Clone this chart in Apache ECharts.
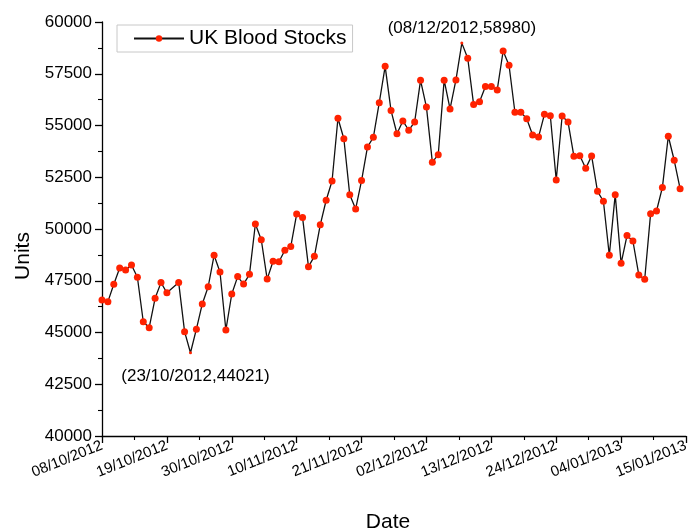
<!DOCTYPE html>
<html><head><meta charset="utf-8">
<script src="https://cdn.jsdelivr.net/npm/echarts@6/dist/echarts.min.js"></script>
<style>html,body{margin:0;padding:0;background:#fff}#c{width:690px;height:532px}</style>
</head><body><div id="c"></div>
<script>
const dates = [
 '08/10/2012','09/10/2012','10/10/2012','11/10/2012','12/10/2012','13/10/2012','14/10/2012','15/10/2012','16/10/2012','17/10/2012','18/10/2012','19/10/2012',
 '21/10/2012','22/10/2012','23/10/2012','24/10/2012','25/10/2012','26/10/2012','27/10/2012','28/10/2012','29/10/2012','30/10/2012','31/10/2012',
 '01/11/2012','02/11/2012','03/11/2012','04/11/2012','05/11/2012','06/11/2012','07/11/2012','08/11/2012','09/11/2012','10/11/2012',
 '11/11/2012','12/11/2012','13/11/2012','14/11/2012','15/11/2012','16/11/2012','17/11/2012','18/11/2012','19/11/2012','20/11/2012',
 '21/11/2012','22/11/2012','23/11/2012','24/11/2012','25/11/2012','26/11/2012','27/11/2012','28/11/2012','29/11/2012','30/11/2012',
 '01/12/2012','02/12/2012','03/12/2012','04/12/2012','05/12/2012','06/12/2012','07/12/2012','08/12/2012','09/12/2012','10/12/2012',
 '11/12/2012','12/12/2012','13/12/2012','14/12/2012','15/12/2012','16/12/2012','17/12/2012','18/12/2012','19/12/2012','20/12/2012',
 '21/12/2012','22/12/2012','23/12/2012','24/12/2012','25/12/2012','26/12/2012','27/12/2012','28/12/2012','29/12/2012','30/12/2012','31/12/2012',
 '01/01/2013','02/01/2013','03/01/2013','04/01/2013','05/01/2013','06/01/2013','07/01/2013','08/01/2013','09/01/2013','10/01/2013',
 '11/01/2013','12/01/2013','13/01/2013','14/01/2013'
];
const units = [
 46570,46490,47330,48120,48020,48260,47670,45520,45230,46650,47410,46920,
 47410,45040,44021,45160,46380,47210,48730,47920,45120,46860,47700,
 47340,47810,50240,49480,47580,48440,48420,48970,49150,50720,
 50550,48180,48680,50200,51390,52320,55350,54360,51650,50970,
 52340,53960,54430,56100,57860,55720,54600,55220,54770,55170,
 57180,55890,53230,53590,57190,55800,57200,58980,58250,56010,
 56150,56880,56880,56720,58600,57910,55640,55640,55330,54540,
 54440,55540,55470,52370,55460,55170,53510,53540,52930,53530,51820,
 51340,48730,51660,48340,49680,49420,47780,47570,50740,50870,
 52010,54480,53320,51950
];
const seriesName = 'UK Blood Stocks';
const axisStartDate = '08/10/2012';
const axisEndDate = '15/01/2013';
const xTickDays = 11;
const yMin = 40000, yMax = 60000, yStep = 2500;

function toUTC(s){const p=s.split('/');return Date.UTC(+p[2],+p[1]-1,+p[0]);}
const DAY = 86400000;
const t0 = toUTC(axisStartDate);
const dayOf = s => Math.round((toUTC(s)-t0)/DAY);
function fmt(day){
  const d = new Date(t0 + day*DAY);
  const dd = String(d.getUTCDate()).padStart(2,'0');
  const mm = String(d.getUTCMonth()+1).padStart(2,'0');
  return dd+'/'+mm+'/'+d.getUTCFullYear();
}
let iMax = 0, iMin = 0;
units.forEach((v,i)=>{ if(v>units[iMax]) iMax=i; if(v<units[iMin]) iMin=i; });
const FONT = '"Liberation Sans", Arial, sans-serif';
const RED = '#ff2200';
const data = dates.map((d,i)=>{
  const item = {value:[dayOf(d), units[i]]};
  if(i===iMax || i===iMin){
    item.symbolSize = 3;
    item.label = {
      show:true,
      position: i===iMax ? 'top' : 'bottom',
      distance: i===iMax ? 5 : 14,
      offset: i===iMax ? [0,0] : [5,0],
      formatter: '(' + d + ',' + units[i] + ')',
      fontSize: 17, fontFamily: FONT, color:'#000'
    };
  }
  return item;
});

const chart = echarts.init(document.getElementById('c'), null, {renderer:'canvas'});
chart.setOption({
  animation:false,
  backgroundColor:'#fff',
  textStyle:{fontFamily:FONT},
  grid:{left:102,right:4,top:22,bottom:96,containLabel:false,outerBoundsMode:'none'},
  legend:{
    show:true, left:117, top:25, orient:'horizontal',
    padding:[3,6,3,16], itemWidth:50, itemHeight:8, itemGap:5,
    borderColor:'#c8c8c8', borderWidth:1, backgroundColor:'#fff',
    textStyle:{fontSize:21, fontFamily:FONT, color:'#000'},
    data:[seriesName]
  },
  xAxis:{
    type:'value', min:0, max:dayOf(axisEndDate), interval:xTickDays,
    name:'Date', nameLocation:'middle', nameGap:76,
    nameTextStyle:{fontSize:21, fontFamily:FONT, color:'#000', padding:[0,12,0,0]},
    axisLine:{show:true,onZero:false,lineStyle:{color:'#000',width:1.3}},
    axisTick:{show:true,inside:false,length:7,lineStyle:{color:'#000',width:1.3}},
    minorTick:{show:true,splitNumber:2,length:4,lineStyle:{color:'#000',width:1.1}},
    splitLine:{show:false}, minorSplitLine:{show:false},
    axisLabel:{rotate:22, margin:9, fontSize:15, fontFamily:FONT, color:'#000',
      formatter:v=>fmt(v), showMinLabel:true, showMaxLabel:true, hideOverlap:false}
  },
  yAxis:{
    type:'value', min:yMin, max:yMax, interval:yStep,
    name:'Units', nameLocation:'middle', nameGap:68, nameRotate:90,
    nameTextStyle:{fontSize:21, fontFamily:FONT, color:'#000', padding:[0,54,0,0]},
    axisLine:{show:true,onZero:false,lineStyle:{color:'#000',width:1.3}},
    axisTick:{show:true,inside:false,length:7,lineStyle:{color:'#000',width:1.3}},
    minorTick:{show:true,splitNumber:2,length:4,lineStyle:{color:'#000',width:1.1}},
    splitLine:{show:false}, minorSplitLine:{show:false},
    axisLabel:{margin:10, fontSize:17, fontFamily:FONT, color:'#000',
      formatter:v=>String(v), showMinLabel:true, showMaxLabel:true}
  },
  series:[{
    name:seriesName, type:'line', data:data,
    symbol:'circle', symbolSize:7, showAllSymbol:true,
    lineStyle:{color:'#111',width:1.3},
    itemStyle:{color:RED, borderWidth:0},
    emphasis:{disabled:true}
  }]
});
</script>
</body></html>
